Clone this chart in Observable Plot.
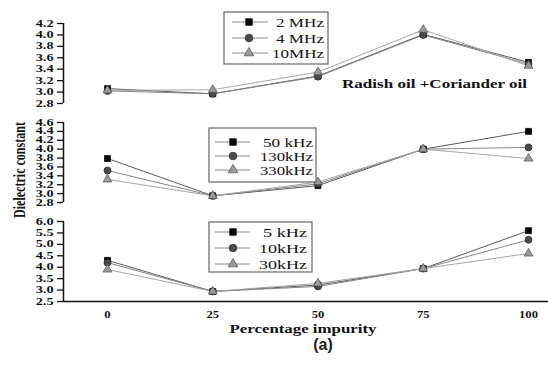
<!DOCTYPE html>
<html>
<head>
<meta charset="utf-8">
<script src="https://cdn.jsdelivr.net/npm/d3@7"></script>
<script src="https://cdn.jsdelivr.net/npm/@observablehq/plot@0.6"></script>
<style>
  html, body { margin: 0; padding: 0; background: #fff; }
  #chart { position: relative; width: 548px; height: 369px; overflow: hidden; background: #fff; }
  #chart > svg { position: absolute; left: 0; }
</style>
</head>
<body>
<div id="chart"></div>
<script>
// ---- Data ----
const impurity = [0, 25, 50, 75, 100];

// Panel 1 (MHz)
const mhzNames = ["2 MHz", "4 MHz", "10MHz"];
const mhz2  = [3.06, 2.97, 3.28, 4.01, 3.52];
const mhz4  = [3.02, 2.97, 3.27, 4.00, 3.49];
const mhz10 = [3.03, 3.04, 3.35, 4.09, 3.46];

// Panel 2 (kHz)
const midNames = ["50 kHz", "130kHz", "330kHz"];
const khz50  = [3.79, 2.95, 3.18, 4.00, 4.40];
const khz130 = [3.52, 2.95, 3.22, 4.00, 4.04];
const khz330 = [3.32, 2.95, 3.26, 4.00, 3.79];

// Panel 3 (kHz)
const lowNames = ["5 kHz", "10kHz", "30kHz"];
const khz5  = [4.30, 2.94, 3.22, 3.94, 5.60];
const khz10 = [4.20, 2.94, 3.16, 3.94, 5.20];
const khz30 = [3.90, 2.94, 3.29, 3.94, 4.60];

const yTicks1 = [2.8, 3.0, 3.2, 3.4, 3.6, 3.8, 4.0, 4.2];
const yTicks2 = [2.8, 3.0, 3.2, 3.4, 3.6, 3.8, 4.0, 4.2, 4.4, 4.6];
const yTicks3 = [2.5, 3.0, 3.5, 4.0, 4.5, 5.0, 5.5, 6.0];
const xTicks = [0, 25, 50, 75, 100];

const xLabel = "Percentage impurity";
const yLabel = "Dielectric constant";
const note = "Radish oil +Coriander oil";
const caption = "(a)";

// ---- Styles (symbols) ----
const symStyles = [
  {symbol: "square",   fill: "#000",    stroke: "#000",    r: 3.4, line: "#5a5a5a"},
  {symbol: "circle",   fill: "#4a4a4a", stroke: "#2a2a2a", r: 3.5, line: "#858585"},
  {symbol: "triangle", fill: "#9a9a9a", stroke: "#505050", r: 3.3, line: "#a5a5a5"}
];

const xDomain = [-10.45, 104.75];
const serif = "Liberation Serif, Times New Roman, serif";

function panel({top, h, mt, mb, yDomain, yTicks, names, series, xAxis}) {
  const marks = [
    Plot.ruleX([xDomain[0]], {stroke: "#111", strokeWidth: 1.5}),
    Plot.axisY({ticks: yTicks, tickFormat: d3.format(".1f"), tickSize: 6, tickPadding: 4,
                fontSize: 9.5, fontWeight: "bold", fontFamily: serif, color: "#111", strokeWidth: 1.3, label: null})
  ];
  if (xAxis) {
    marks.push(Plot.ruleY([yDomain[0]], {stroke: "#111", strokeWidth: 1.5}));
    marks.push(Plot.axisX({ticks: xTicks, tickSize: 0, tickPadding: 9, fontSize: 10.5, fontWeight: "bold",
                           fontFamily: serif, color: "#111", label: null}));
  }
  series.forEach((vals, k) => {
    const s = symStyles[k];
    const data = impurity.map((x, i) => ({x, y: vals[i], name: names[k]}));
    marks.push(Plot.line(data, {x: "x", y: "y", stroke: s.line, strokeWidth: 1}));
  });
  series.forEach((vals, k) => {
    const s = symStyles[k];
    const data = impurity.map((x, i) => ({x, y: vals[i], name: names[k]}));
    marks.push(Plot.dot(data, {x: "x", y: "y", symbol: s.symbol, fill: s.fill, stroke: s.stroke, strokeWidth: 0.7, r: s.r}));
  });
  const svg = Plot.plot({
    width: 548, height: h, marginLeft: 63, marginRight: 0, marginTop: mt, marginBottom: mb,
    style: {background: "transparent", overflow: "visible", fontFamily: serif},
    x: {domain: xDomain, ...(xAxis ? {} : {axis: null})},
    y: {domain: yDomain},
    marks
  });
  svg.style.top = top + "px";
  return svg;
}

const chart = document.getElementById("chart");
const p1 = panel({top: 0, h: 110, mt: 23, mb: 7, yDomain: [2.8, 4.2], yTicks: yTicks1,
                  names: mhzNames, series: [mhz2, mhz4, mhz10], xAxis: false});
const p2 = panel({top: 110, h: 97, mt: 12, mb: 5, yDomain: [2.8, 4.6], yTicks: yTicks2,
                  names: midNames, series: [khz50, khz130, khz330], xAxis: false});
const p3 = panel({top: 207, h: 125, mt: 14, mb: 31, yDomain: [2.5, 6.0], yTicks: yTicks3,
                  names: lowNames, series: [khz5, khz10, khz30], xAxis: true});
chart.append(p1, p2, p3);

// stretch tick labels horizontally (reference glyphs are wide)
function stretch(el, f) {
  const w = el.getComputedTextLength();
  if (w > 0) { el.setAttribute("textLength", (w * f).toFixed(2)); el.setAttribute("lengthAdjust", "spacingAndGlyphs"); }
}
[p1, p2, p3].forEach(svg => {
  svg.querySelectorAll('g[aria-label="y-axis tick label"] text').forEach(t => stretch(t, 1.5));
  svg.querySelectorAll('g[aria-label="x-axis tick label"] text').forEach(t => stretch(t, 1.2));
});

// ---- Overlay: legends and labels ----
const ov = d3.select(chart).append("svg")
  .attr("width", 548).attr("height", 369)
  .style("top", "0px").style("pointer-events", "none");

function legend({x, y, w, h, rows, names, lineX0, lineX1, markX, textEnd, widths}) {
  const g = ov.append("g");
  g.append("rect").attr("x", x).attr("y", y).attr("width", w).attr("height", h)
    .attr("fill", "#fff").attr("stroke", "#666").attr("stroke-width", 1.2);
  rows.forEach((ry, k) => {
    const s = symStyles[k];
    g.append("line").attr("x1", lineX0).attr("x2", lineX1).attr("y1", ry).attr("y2", ry)
      .attr("stroke", "#8a8a8a").attr("stroke-width", 1);
    const sym = {square: d3.symbolSquare, circle: d3.symbolCircle, triangle: d3.symbolTriangle}[s.symbol];
    g.append("path").attr("d", d3.symbol(sym, s.r * s.r * Math.PI * 1.2)())
      .attr("transform", `translate(${markX},${ry})`)
      .attr("fill", s.fill).attr("stroke", s.stroke).attr("stroke-width", 0.7);
    g.append("text").attr("x", textEnd).attr("y", ry).attr("dy", "0.36em")
      .attr("text-anchor", "end").attr("font-family", serif).attr("font-size", 12.5)
      .attr("fill", "#111")
      .attr("textLength", widths[k]).attr("lengthAdjust", "spacingAndGlyphs")
      .text(names[k]);
  });
}

legend({x: 224, y: 12, w: 104, h: 52, rows: [22, 38, 53], names: mhzNames,
        lineX0: 232, lineX1: 268, markX: 249, textEnd: 324, widths: [48, 48, 52]});
legend({x: 209, y: 128, w: 107, h: 54, rows: [142, 156, 170], names: midNames,
        lineX0: 215, lineX1: 250, markX: 233, textEnd: 313, widths: [50, 53, 53]});
legend({x: 209, y: 222, w: 103, h: 50, rows: [232, 248, 264], names: lowNames,
        lineX0: 215, lineX1: 250, markX: 233, textEnd: 307, widths: [44, 48, 48]});

ov.append("text").attr("x", 342).attr("y", 83).attr("dy", "0.36em")
  .attr("font-family", serif).attr("font-weight", "bold").attr("font-size", 12.5).attr("fill", "#111")
  .attr("textLength", 185).attr("lengthAdjust", "spacingAndGlyphs").text(note);

ov.append("text").attr("transform", "translate(19,170) rotate(-90)").attr("text-anchor", "middle")
  .attr("dy", "0.36em").attr("font-family", serif).attr("font-weight", "bold").attr("font-size", 16)
  .attr("fill", "#111").attr("textLength", 96).attr("lengthAdjust", "spacingAndGlyphs").text(yLabel);

ov.append("text").attr("x", 303).attr("y", 329).attr("dy", "0.36em").attr("text-anchor", "middle")
  .attr("font-family", serif).attr("font-weight", "bold").attr("font-size", 11.5).attr("fill", "#111")
  .attr("textLength", 147).attr("lengthAdjust", "spacingAndGlyphs").text(xLabel);

ov.append("text").attr("x", 323).attr("y", 344).attr("dy", "0.36em").attr("text-anchor", "middle")
  .attr("font-family", "Liberation Sans, Arial, sans-serif").attr("font-weight", "bold")
  .attr("font-size", 16).attr("fill", "#222").text(caption);
</script>
</body>
</html>
